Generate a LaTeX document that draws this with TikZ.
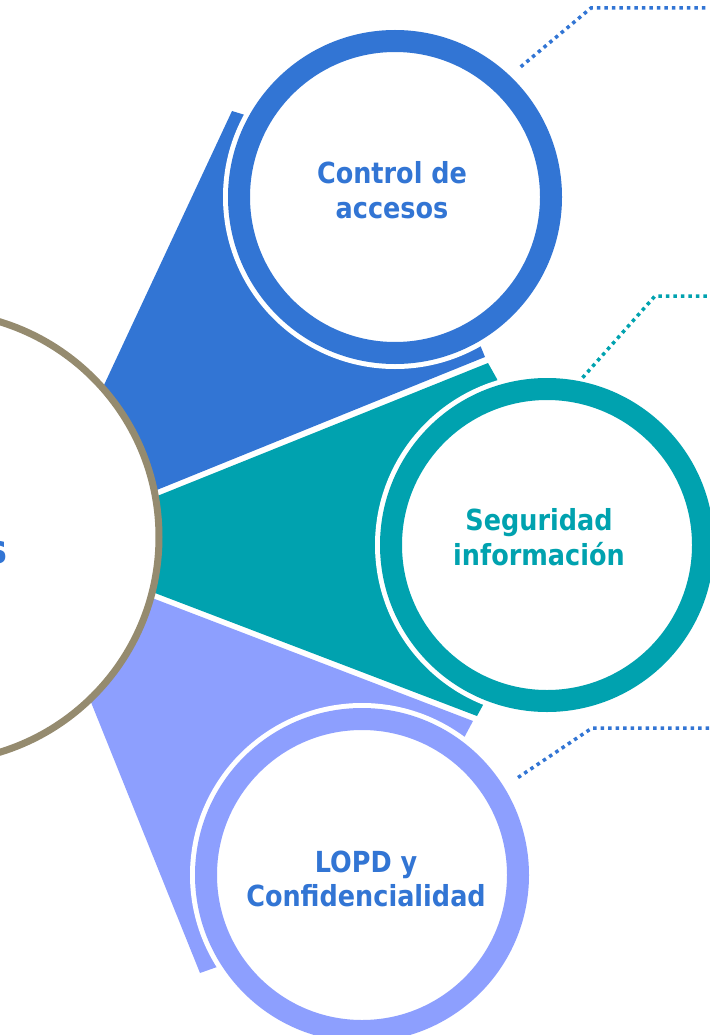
\documentclass[tikz,border=0pt]{standalone}
\usepackage{fontspec}
\usepackage{xcolor}
\usetikzlibrary{positioning, calc, backgrounds}
\newfontfamily\lblfont[FakeStretch=0.88]{DejaVu Sans}
\definecolor{accblue}{HTML}{3275D4}
\definecolor{segteal}{HTML}{00A2AF}
\definecolor{lopdlav}{HTML}{8D9FFE}
\definecolor{hubring}{HTML}{958B6F}
\tikzset{
    bubble/.style={circle, draw=#1, fill=white, line width=22pt, minimum size=312pt, inner sep=0pt, outer sep=0pt,
        preaction={draw=white, line width=32pt}},
    lbl/.style={font=\lblfont\bfseries\fontsize{29}{34.5}\selectfont, text=#1, align=center, inner sep=0pt},
    leader/.style={draw=#1, line width=3.5pt, dash pattern=on 3.5pt off 4pt}
}

\begin{document}
\begin{tikzpicture}[x=1pt, y=-1pt]
    \useasboundingbox (0,0) rectangle (709,1035);

    % 中心円
    \node[circle, draw=hubring, fill=white, line width=7pt, minimum size=450pt, inner sep=0pt] (hub) at (-66,537) {};
    \node[lbl=accblue, font=\lblfont\bfseries\fontsize{40}{48}\selectfont, anchor=base east] (hub-lbl) at (7.5,563) {s};

    % 円
    \node[bubble=accblue] (ctrl) at (395,197) {};
    \node[bubble=segteal] (segu) at (547,545) {};
    \node[bubble=lopdlav] (lopd) at (362,875) {};

    \node[lbl=accblue] (ctrl-lbl) at (392,190) {Control de\\accesos};
    \node[lbl=segteal] (segu-lbl) at (539,537) {Seguridad\\información};
    \node[lbl=accblue] (lopd-lbl) at (366,879) {LOPD y\\Confidencialidad};

    % 扇形
    \begin{scope}[on background layer]
        \fill[accblue] (83,430) -- (232,111) -- (245,115) -- (ctrl.center) -- (480.5,346) -- (485,357) -- (100,513) -- cycle;
        \fill[segteal] (100,519) -- (488,363) -- (497,379) -- (segu.center) -- (483,705) -- (477,716) -- (100,572) -- cycle;
        \fill[lopdlav] (74,660) -- (100,578) -- (473,721) -- (465,736) -- (lopd.center) -- (217,967) -- (200,973) -- cycle;
    \end{scope}

    % 点線
    \coordinate (ctrl-bend) at (591,8);
    \coordinate (ctrl-end) at (709,8);
    \coordinate (segu-bend) at (655,296);
    \coordinate (segu-end) at (709,296);
    \coordinate (lopd-bend) at (592,728);
    \coordinate (lopd-end) at (709,728);
    \draw[leader=accblue] ($(ctrl.center)!181pt!(ctrl.46)$) -- (ctrl-bend) -- (ctrl-end);
    \draw[leader=segteal] ($(segu.center)!171pt!(segu.78)$) -- (segu-bend) -- (segu-end);
    \draw[leader=accblue] ($(lopd.center)!184pt!(lopd.32)$) -- (lopd-bend) -- (lopd-end);
\end{tikzpicture}
\end{document}
